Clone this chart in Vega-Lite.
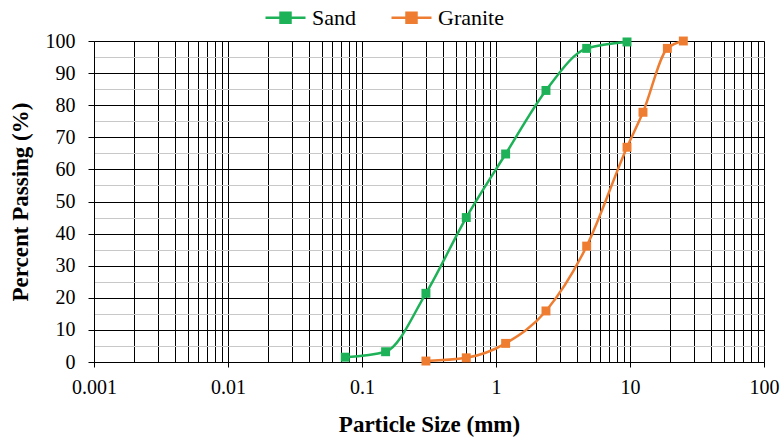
{
  "$schema": "https://vega.github.io/schema/vega-lite/v6.json",
  "width": 670,
  "height": 321,
  "autosize": "none",
  "padding": {"left": 94, "top": 41, "right": 19, "bottom": 76},
  "background": "white",
  "config": {
    "font": "Liberation Serif",
    "axis": {"labelFont": "Liberation Serif", "titleFont": "Liberation Serif"},
    "legend": {"labelFont": "Liberation Serif"},
    "view": {"stroke": null}
  },
  "data": {
    "values": [
      {"material": "Sand", "size": 0.075, "passing": 1.5},
      {"material": "Sand", "size": 0.15, "passing": 3.2},
      {"material": "Sand", "size": 0.3, "passing": 21.4},
      {"material": "Sand", "size": 0.6, "passing": 45},
      {"material": "Sand", "size": 1.18, "passing": 64.8},
      {"material": "Sand", "size": 2.36, "passing": 84.6},
      {"material": "Sand", "size": 4.75, "passing": 97.7},
      {"material": "Sand", "size": 9.5, "passing": 99.7},
      {"material": "Granite", "size": 0.3, "passing": 0.3},
      {"material": "Granite", "size": 0.6, "passing": 1.3},
      {"material": "Granite", "size": 1.18, "passing": 5.8},
      {"material": "Granite", "size": 2.36, "passing": 15.9},
      {"material": "Granite", "size": 4.75, "passing": 36.1},
      {"material": "Granite", "size": 9.5, "passing": 66.9},
      {"material": "Granite", "size": 12.5, "passing": 77.8},
      {"material": "Granite", "size": 19, "passing": 97.7},
      {"material": "Granite", "size": 25, "passing": 100}
    ]
  },
  "encoding": {
    "x": {
      "field": "size",
      "type": "quantitative",
      "scale": {"type": "log", "domain": [0.001, 100], "nice": false},
      "axis": {
        "title": "Particle Size (mm)",
        "titleFontSize": 23,
        "titleFontWeight": "bold",
        "titleColor": "black",
        "titlePadding": 16,
        "values": [0.001,0.002,0.003,0.004,0.005,0.006,0.007,0.008,0.009,0.01,0.02,0.03,0.04,0.05,0.06,0.07,0.08,0.09,0.1,0.2,0.3,0.4,0.5,0.6,0.7,0.8,0.9,1,2,3,4,5,6,7,8,9,10,20,30,40,50,60,70,80,90,100],
        "labelExpr": "abs(log(datum.value)/LN10 - round(log(datum.value)/LN10)) < 0.001 ? toString(datum.value) : ''",
        "labelFontSize": 20,
        "labelColor": "black",
        "labelPadding": 10,
        "labelOverlap": false,
        "labelFlush": false,
        "tickSize": 5,
        "tickColor": "black",
        "tickOpacity": {"condition": {"test": "abs(log(datum.value)/LN10 - round(log(datum.value)/LN10)) < 0.001", "value": 1}, "value": 0},
        "domainColor": "black",
        "domainWidth": 1,
        "grid": true,
        "gridColor": "black",
        "gridWidth": 1,
        "gridOpacity": 1
      }
    },
    "y": {
      "field": "passing",
      "type": "quantitative",
      "scale": {"domain": [0, 100], "nice": false},
      "axis": {
        "title": "Percent Passing (%)",
        "titleFontSize": 23,
        "titleFontWeight": "bold",
        "titleColor": "black",
        "titlePadding": 13,
        "values": [0,5,10,15,20,25,30,35,40,45,50,55,60,65,70,75,80,85,90,95,100],
        "labelExpr": "datum.value % 10 == 0 ? toString(datum.value) : ''",
        "labelFontSize": 20,
        "labelColor": "black",
        "labelPadding": 13,
        "tickSize": 6,
        "tickColor": "black",
        "tickOpacity": {"condition": {"test": "datum.value % 10 == 0", "value": 1}, "value": 0},
        "domainColor": "black",
        "grid": true,
        "gridColor": {"condition": {"test": "datum.value % 10 == 0", "value": "black"}, "value": "#c8c8c8"},
        "gridWidth": 1,
        "gridOpacity": 1
      }
    },
    "color": {
      "field": "material",
      "type": "nominal",
      "scale": {"domain": ["Sand", "Granite"], "range": ["#1db257", "#ee7d31"]},
      "legend": {
        "title": null,
        "orient": "none",
        "legendX": 170,
        "legendY": -45,
        "direction": "horizontal",
        "labelFontSize": 22,
        "labelColor": "black",
        "symbolType": "M-1,0L1,0M-0.25,-0.25L0.25,-0.25L0.25,0.25L-0.25,0.25Z",
        "symbolSize": 1600,
        "symbolStrokeWidth": 2.5,
        "symbolOpacity": 1,
        "columnPadding": 30,
        "labelOffset": 5
      }
    },
    "order": {"field": "size", "type": "quantitative"}
  },
  "layer": [
    {
      "mark": {"type": "line", "interpolate": "monotone", "strokeWidth": 2.5}
    },
    {
      "mark": {"type": "square", "size": 80, "filled": true, "opacity": 1},
      "encoding": {"color": {"field": "material", "type": "nominal", "legend": null}}
    }
  ]
}
